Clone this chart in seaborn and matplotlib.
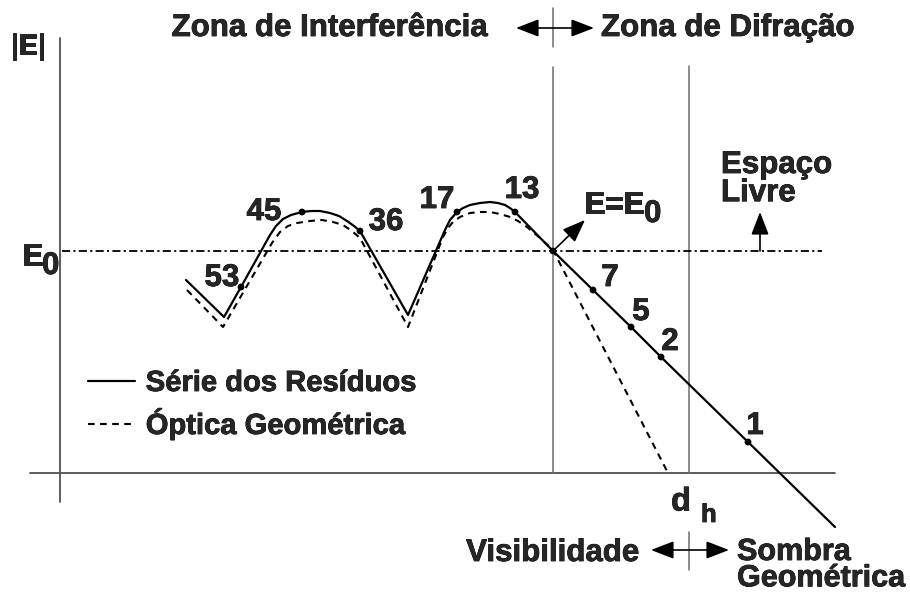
import matplotlib
matplotlib.use("Agg")
import matplotlib.pyplot as plt
import matplotlib.patheffects as pe
import pandas as pd
import seaborn as sns

# Field magnitude |E| versus distance d (arbitrary units, origin at the axes corner)
E0 = 222            # free-space field level
d_zone = 493        # interference / diffraction boundary (E = E0)
d_horizon = 629     # radio horizon d_h

# Residue-series solution (solid)
serie_d = [126, 164, 181, 210, 216, 223, 231, 242, 251, 260, 270, 279, 287, 294, 300,
           348, 385, 390, 397, 403, 410, 420, 430, 438, 445, 450, 455,
           493, 533, 571, 601, 688, 775]
serie_E = [193, 156, 186, 238, 247, 254, 258, 261, 262, 262, 260, 257, 252, 247, 242,
           158, 243, 253, 261, 265, 268, 270, 271, 270, 268, 265, 261,
           222, 183, 146, 116, 31, -54]

# Geometrical-optics solution (dashed)
optica_d = [127, 163, 212, 220, 228, 237, 250, 262, 273, 283, 292, 300,
            348, 383, 388, 393, 400, 410, 420, 430, 440, 450, 458, 467, 480, 493, 608]
optica_E = [183, 146, 230, 241, 247, 250, 252, 253, 251, 248, 242, 235,
            146, 236, 245, 251, 256, 260, 261, 261, 259, 256, 252, 246, 235, 223, 0]

# Number of terms kept in the residue series at selected points
pt_labels = ["53", "45", "36", "17", "13", "7", "5", "2", "1"]
pt_d = [181, 242, 300, 397, 455, 533, 571, 601, 688]
pt_E = [186, 261, 242, 261, 261, 183, 146, 116, 31]
# label offsets in pixels (dx, dy)
pt_off = [(-19, 9), (-38, 0), (26, 9), (-20, 12), (7, 22), (17, 12), (10, 15), (9, 15), (7, 16)]

sns.set_style("white")
plt.rcParams["font.family"] = ["Liberation Sans", "DejaVu Sans"]
plt.rcParams["font.weight"] = "bold"

fig = plt.figure(figsize=(9.10, 5.95), dpi=100)
ax = fig.add_axes([0, 0, 1, 1])
ax.set_xlim(-60, 850)
ax.set_ylim(-122, 473)
ax.axis("off")


def at(x, y):
    """Canvas position (origin top-left, pixels) -> data coordinates."""
    return x - 60, 473 - y


FS = 22.5
GRAY = "#505050"
LGRAY = "#6e6e6e"

# axes, boundaries and the free-space level
ax.plot([0, 0], [-29, 435], color=GRAY, lw=1.3)
ax.plot([-30, 775], [0, 0], color=GRAY, lw=1.3)
ax.plot([d_zone, d_zone], [0, 406], color=LGRAY, lw=1.1)
ax.plot([d_horizon, d_horizon], [0, 407], color=LGRAY, lw=1.1)
ax.plot([2, 762], [E0, E0], color="black", lw=1.3, linestyle=(0, (4.5, 1.8, 1.2, 1.8)))

serie = pd.DataFrame({"d": serie_d, "E": serie_E})
optica = pd.DataFrame({"d": optica_d, "E": optica_E})
sns.lineplot(data=serie, x="d", y="E", sort=False, estimator=None, color="black",
             lw=1.6, ax=ax, label="Série dos Resíduos")
sns.lineplot(data=optica, x="d", y="E", sort=False, estimator=None, color="black",
             lw=1.5, linestyle=(0, (3.2, 2.6)), ax=ax, label="Óptica Geométrica")
for ln in ax.get_lines():
    ln.set_solid_joinstyle("round")

pts = pd.DataFrame({"d": pt_d + [d_zone], "E": pt_E + [E0]})
sns.scatterplot(data=pts, x="d", y="E", color="black", s=24, edgecolor="none", ax=ax,
                legend=False, zorder=5)
for lab, x, y, (dx, dy) in zip(pt_labels, pt_d, pt_E, pt_off):
    ax.annotate(lab, (x, y), xytext=(dx, dy), textcoords="offset pixels",
                ha="center", va="center", fontsize=FS, fontweight="bold")

leg = ax.legend(loc="upper left", bbox_to_anchor=at(88, 369), bbox_transform=ax.transData,
                frameon=False, fontsize=21, handlelength=1.6, handletextpad=0.38,
                labelspacing=0.36, borderpad=0, borderaxespad=0)
for t in leg.get_texts():
    t.set_fontweight("bold")

ax.set_xlabel("")
ax.set_ylabel("")

# axis labels
ax.text(*at(28, 47), "|E|", fontsize=FS - 2, ha="center", va="center")
ax.text(*at(22, 257), "E", fontsize=FS, ha="left", va="center")
ax.text(*at(42, 266), "0", fontsize=FS, ha="left", va="center")
ax.text(*at(671, 502), "d", fontsize=FS + 1, ha="left", va="center")
ax.text(*at(701, 515), "h", fontsize=FS - 4, ha="left", va="center")

# zone headings with boundary arrows
ax.text(*at(488, 28), "Zona de Interferência", fontsize=FS, ha="right", va="center")
ax.text(*at(601, 28), "Zona de Difração", fontsize=FS, ha="left", va="center")
ax.text(*at(639, 553), "Visibilidade", fontsize=FS, ha="right", va="center")
ax.text(*at(737, 537), "Sombra\nGeométrica", fontsize=22, ha="left", va="top",
        linespacing=0.84)

arrow2 = dict(arrowstyle="<|-|>,head_length=0.7,head_width=0.27", mutation_scale=20,
              color="black", lw=1.2, shrinkA=0, shrinkB=0)
arrow1 = dict(arrowstyle="-|>,head_length=0.7,head_width=0.27", mutation_scale=20,
              color="black", lw=1.2, shrinkA=0, shrinkB=0)
ax.annotate("", xy=at(594, 28), xytext=at(516, 28), arrowprops=arrow2)
ax.plot([d_zone, d_zone], [473 - 47, 473 - 8], color=LGRAY, lw=1.1)
ax.annotate("", xy=at(729, 550), xytext=at(651, 550), arrowprops=arrow2)
ax.plot([d_horizon, d_horizon], [473 - 570, 473 - 532], color=LGRAY, lw=1.1)

# E = E0 marker and free-space annotation
ax.annotate("", xy=at(585, 220), xytext=(d_zone, E0), arrowprops=arrow1)
ax.text(*at(584, 205), "E=E", fontsize=FS, ha="left", va="center")
ax.text(*at(644, 214), "0", fontsize=FS, ha="left", va="center")
ax.annotate("", xy=at(760, 212), xytext=at(760, 251), arrowprops=arrow1)
ax.text(*at(721, 150), "Espaço\nLivre", fontsize=FS, ha="left", va="top", linespacing=0.92)

# heavier glyph strokes
heavy = [pe.withStroke(linewidth=0.55, foreground="black")]
for t in list(ax.texts) + list(leg.get_texts()):
    t.set_path_effects(heavy)

fig.savefig("out.png", dpi=100)
